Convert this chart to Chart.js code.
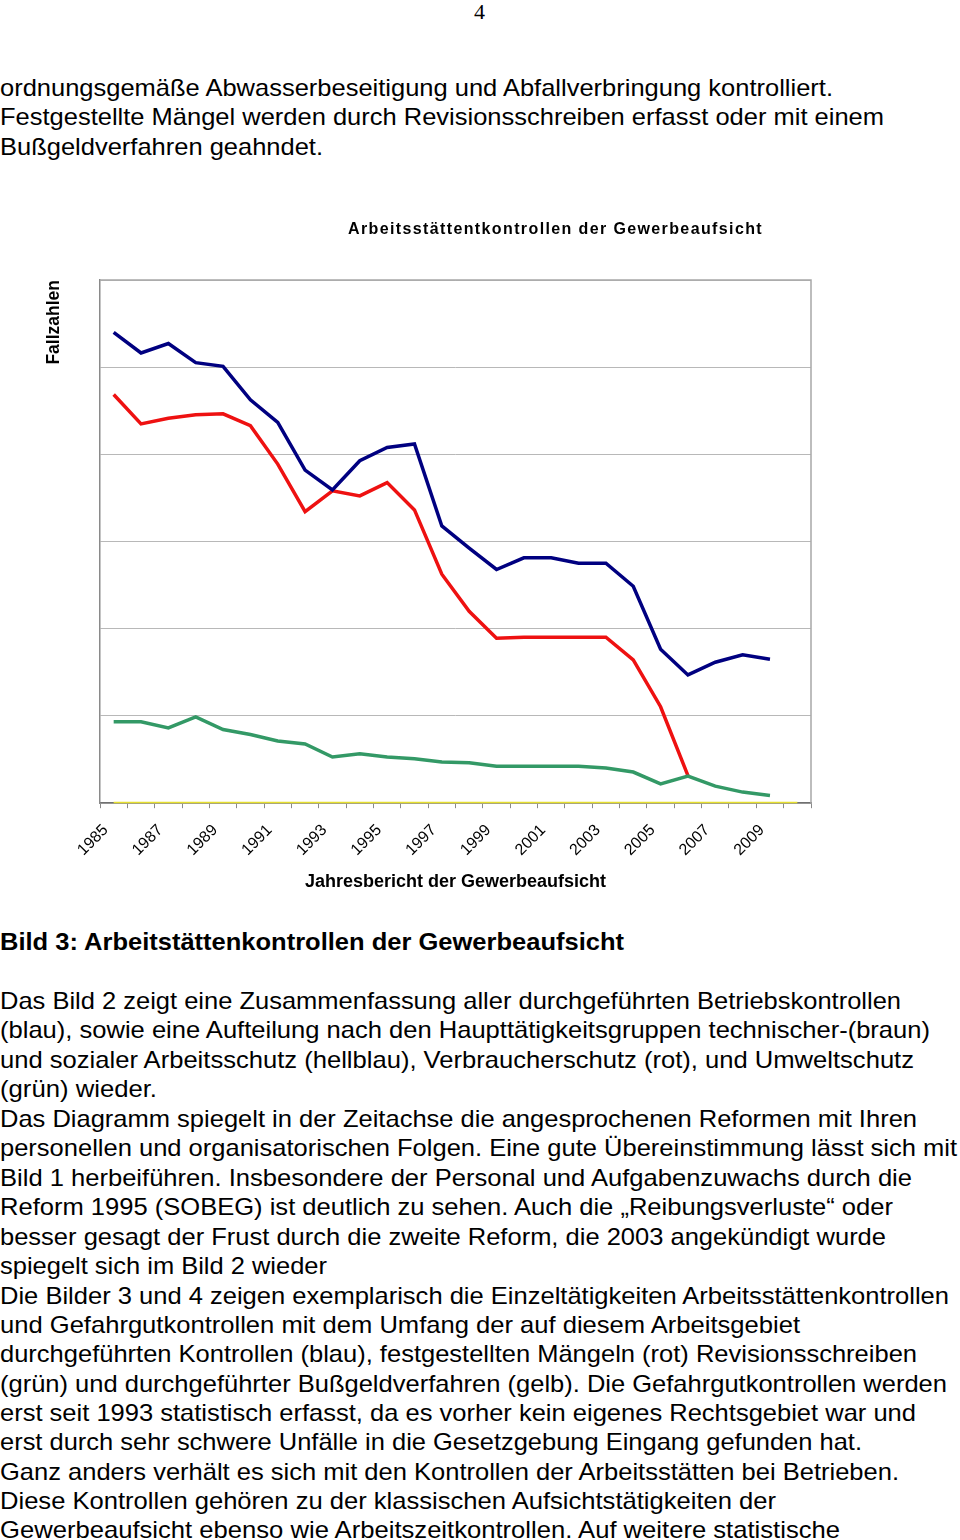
<!DOCTYPE html>
<html>
<head>
<meta charset="utf-8">
<script src="https://cdn.jsdelivr.net/npm/chart.js@4/dist/chart.umd.min.js"></script>
<style>
  html, body { margin: 0; padding: 0; background: #fff; }
  body { width: 960px; height: 1540px; position: relative; overflow: hidden; font-family: "Liberation Sans", Arial, sans-serif; color: #000; }
  .ln { position: absolute; left: 0; white-space: nowrap; font-size: 24px; line-height: 30px; transform-origin: 0 0; }
  .b { font-weight: bold; }
  #pn { position: absolute; left: 474px; top: -2px; font-family: "Liberation Serif", serif; font-size: 22px; line-height: 28px; }
  #wrap { position: absolute; left: 0; top: 190px; width: 960px; height: 720px; }
</style>
</head>
<body>
<div id="pn">4</div>
<div id="text"></div>
<div id="wrap"><canvas id="c" width="960" height="720"></canvas></div>
<script>
// ---- data ----
const years = ['1985','1986','1987','1988','1989','1990','1991','1992','1993','1994','1995','1996','1997','1998','1999','2000','2001','2002','2003','2004','2005','2006','2007','2008','2009','2010'];
const kontrollen = [5400,5163,5271,5052,5010,4626,4368,3820,3593,3927,4080,4120,3179,2925,2680,2814,2814,2753,2753,2488,1766,1471,1616,1701,1650,null];
const maengel = [4687,4350,4414,4454,4465,4330,3889,3343,3582,3524,3677,3363,2626,2200,1892,1904,1904,1904,1904,1643,1106,315,null,null,null,null];
const revisionsschreiben = [933,933,864,990,844,787,714,680,530,568,530,510,472,464,423,423,423,423,403,357,222,311,196,127,89,null];
const bussgeldverfahren = [0,0,0,0,0,0,0,0,0,0,0,0,0,0,0,0,0,0,0,0,0,0,0,0,0,0];
const chartTitle = 'Arbeitsstättentkontrollen der Gewerbeaufsicht';
const yTitle = 'Fallzahlen';
const xTitle = 'Jahresbericht der Gewerbeaufsicht';

// ---- page text ----
const lines = [
  [73, 833, 0, 'ordnungsgemäße Abwasserbeseitigung und Abfallverbringung kontrolliert.'],
  [102, 884, 0, 'Festgestellte Mängel werden durch Revisionsschreiben erfasst oder mit einem'],
  [132, 323, 0, 'Bußgeldverfahren geahndet.'],
  [927, 624, 1, 'Bild 3: Arbeitstättenkontrollen der Gewerbeaufsicht'],
  [986, 901, 0, 'Das Bild 2 zeigt eine Zusammenfassung aller durchgeführten Betriebskontrollen'],
  [1015, 930, 0, '(blau), sowie eine Aufteilung nach den Haupttätigkeitsgruppen technischer-(braun)'],
  [1045, 914, 0, 'und sozialer Arbeitsschutz (hellblau), Verbraucherschutz (rot), und Umweltschutz'],
  [1074, 157, 0, '(grün) wieder.'],
  [1104, 917, 0, 'Das Diagramm spiegelt in der Zeitachse die angesprochenen Reformen mit Ihren'],
  [1133, 957, 0, 'personellen und organisatorischen Folgen. Eine gute Übereinstimmung lässt sich mit'],
  [1163, 912, 0, 'Bild 1 herbeiführen. Insbesondere der Personal und Aufgabenzuwachs durch die'],
  [1192, 893, 0, 'Reform 1995 (SOBEG) ist deutlich zu sehen. Auch die \u201EReibungsverluste\u201C oder'],
  [1222, 886, 0, 'besser gesagt der Frust durch die zweite Reform, die 2003 angekündigt wurde'],
  [1251, 327, 0, 'spiegelt sich im Bild 2 wieder'],
  [1281, 949, 0, 'Die Bilder 3 und 4 zeigen exemplarisch die Einzeltätigkeiten Arbeitsstättenkontrollen'],
  [1310, 800, 0, 'und Gefahrgutkontrollen mit dem Umfang der auf diesem Arbeitsgebiet'],
  [1339, 917, 0, 'durchgeführten Kontrollen (blau), festgestellten Mängeln (rot) Revisionsschreiben'],
  [1369, 947, 0, '(grün) und durchgeführter Bußgeldverfahren (gelb). Die Gefahrgutkontrollen werden'],
  [1398, 916, 0, 'erst seit 1993 statistisch erfasst, da es vorher kein eigenes Rechtsgebiet war und'],
  [1427, 862, 0, 'erst durch sehr schwere Unfälle in die Gesetzgebung Eingang gefunden hat.'],
  [1457, 899, 0, 'Ganz anders verhält es sich mit den Kontrollen der Arbeitsstätten bei Betrieben.'],
  [1486, 776, 0, 'Diese Kontrollen gehören zu der klassischen Aufsichtstätigkeiten der'],
  [1515, 840, 0, 'Gewerbeaufsicht ebenso wie Arbeitszeitkontrollen. Auf weitere statistische']
];
const tc = document.getElementById('text');
lines.forEach(([top, w, bold, s]) => {
  const d = document.createElement('div');
  d.className = 'ln' + (bold ? ' b' : '');
  d.style.top = top + 'px';
  d.textContent = s;
  tc.appendChild(d);
  const mw = d.getBoundingClientRect().width;
  d.style.transform = 'scaleX(' + (w / mw) + ')';
});

// ---- chart ----
const framePlugin = {
  id: 'frame',
  beforeDatasetsDraw(chart) {
    const {ctx, chartArea: a} = chart;
    ctx.save();
    ctx.strokeStyle = '#a8a8a8';
    ctx.lineWidth = 1.5;
    ctx.beginPath();
    ctx.moveTo(a.left, a.top);
    ctx.lineTo(a.right, a.top);
    ctx.lineTo(a.right, a.bottom);
    ctx.stroke();
    ctx.restore();
  },
  afterDraw(chart) {
    const {ctx, chartArea: a} = chart;
    ctx.save();
    ctx.font = 'bold 16px "Liberation Sans", Arial, sans-serif';
    ctx.fillStyle = '#000';
    ctx.textAlign = 'center';
    ctx.textBaseline = 'middle';
    const w = ctx.measureText(chartTitle).width;
    const ls = (415 - w) / chartTitle.length;
    ctx.letterSpacing = ls.toFixed(2) + 'px';
    ctx.fillText(chartTitle, (a.left + a.right) / 2 + 100, a.top - 50);
    ctx.restore();
  }
};

new Chart(document.getElementById('c'), {
  type: 'line',
  data: {
    labels: years,
    datasets: [
      { label: 'Kontrollen', data: kontrollen, borderColor: '#000080', borderWidth: 3.5 },
      { label: 'Revisionsschreiben', data: revisionsschreiben, borderColor: '#339966', borderWidth: 3.5 },
      { label: 'Mängel', data: maengel, borderColor: '#ee1111', borderWidth: 3.5 },
      { label: 'Bußgeldverfahren', data: bussgeldverfahren, borderColor: '#e6df2e', borderWidth: 3 }
    ]
  },
  options: {
    responsive: false,
    animation: false,
    layout: { padding: { left: 40, right: 149, top: 90, bottom: 13 } },
    elements: { point: { radius: 0 }, line: { tension: 0, borderCapStyle: 'butt', borderJoinStyle: 'miter' } },
    plugins: { legend: { display: false }, title: { display: false }, tooltip: { enabled: false } },
    scales: {
      x: {
        offset: true,
        grid: { offset: true, drawOnChartArea: false, drawTicks: true, tickLength: 5, color: '#8a8a8a' },
        border: { color: '#707070', width: 1.5 },
        ticks: {
          autoSkip: false, minRotation: 45, maxRotation: 45, padding: 15, labelOffset: -8,
          color: '#000', font: { family: '"Liberation Sans", Arial, sans-serif', size: 16, lineHeight: 0.8 },
          callback: function (v, i) { return (i % 2 === 0 && i < 25) ? this.getLabelForValue(v) : ''; }
        },
        title: { display: true, text: xTitle, color: '#000', font: { family: '"Liberation Sans", Arial, sans-serif', size: 18, weight: 'bold' }, padding: { top: -1, bottom: 4 } }
      },
      y: {
        min: 0, max: 6000,
        ticks: { display: false, stepSize: 1000 },
        grid: { color: '#b8b8b8', drawTicks: false, lineWidth: 1 },
        border: { color: '#8a8a8a', width: 1.5 },
        title: { display: true, text: yTitle, align: 'end', color: '#000', font: { family: '"Liberation Sans", Arial, sans-serif', size: 17.5, weight: 'bold' }, padding: { top: 4, bottom: 35 } }
      }
    }
  },
  plugins: [framePlugin]
});
</script>
</body>
</html>
